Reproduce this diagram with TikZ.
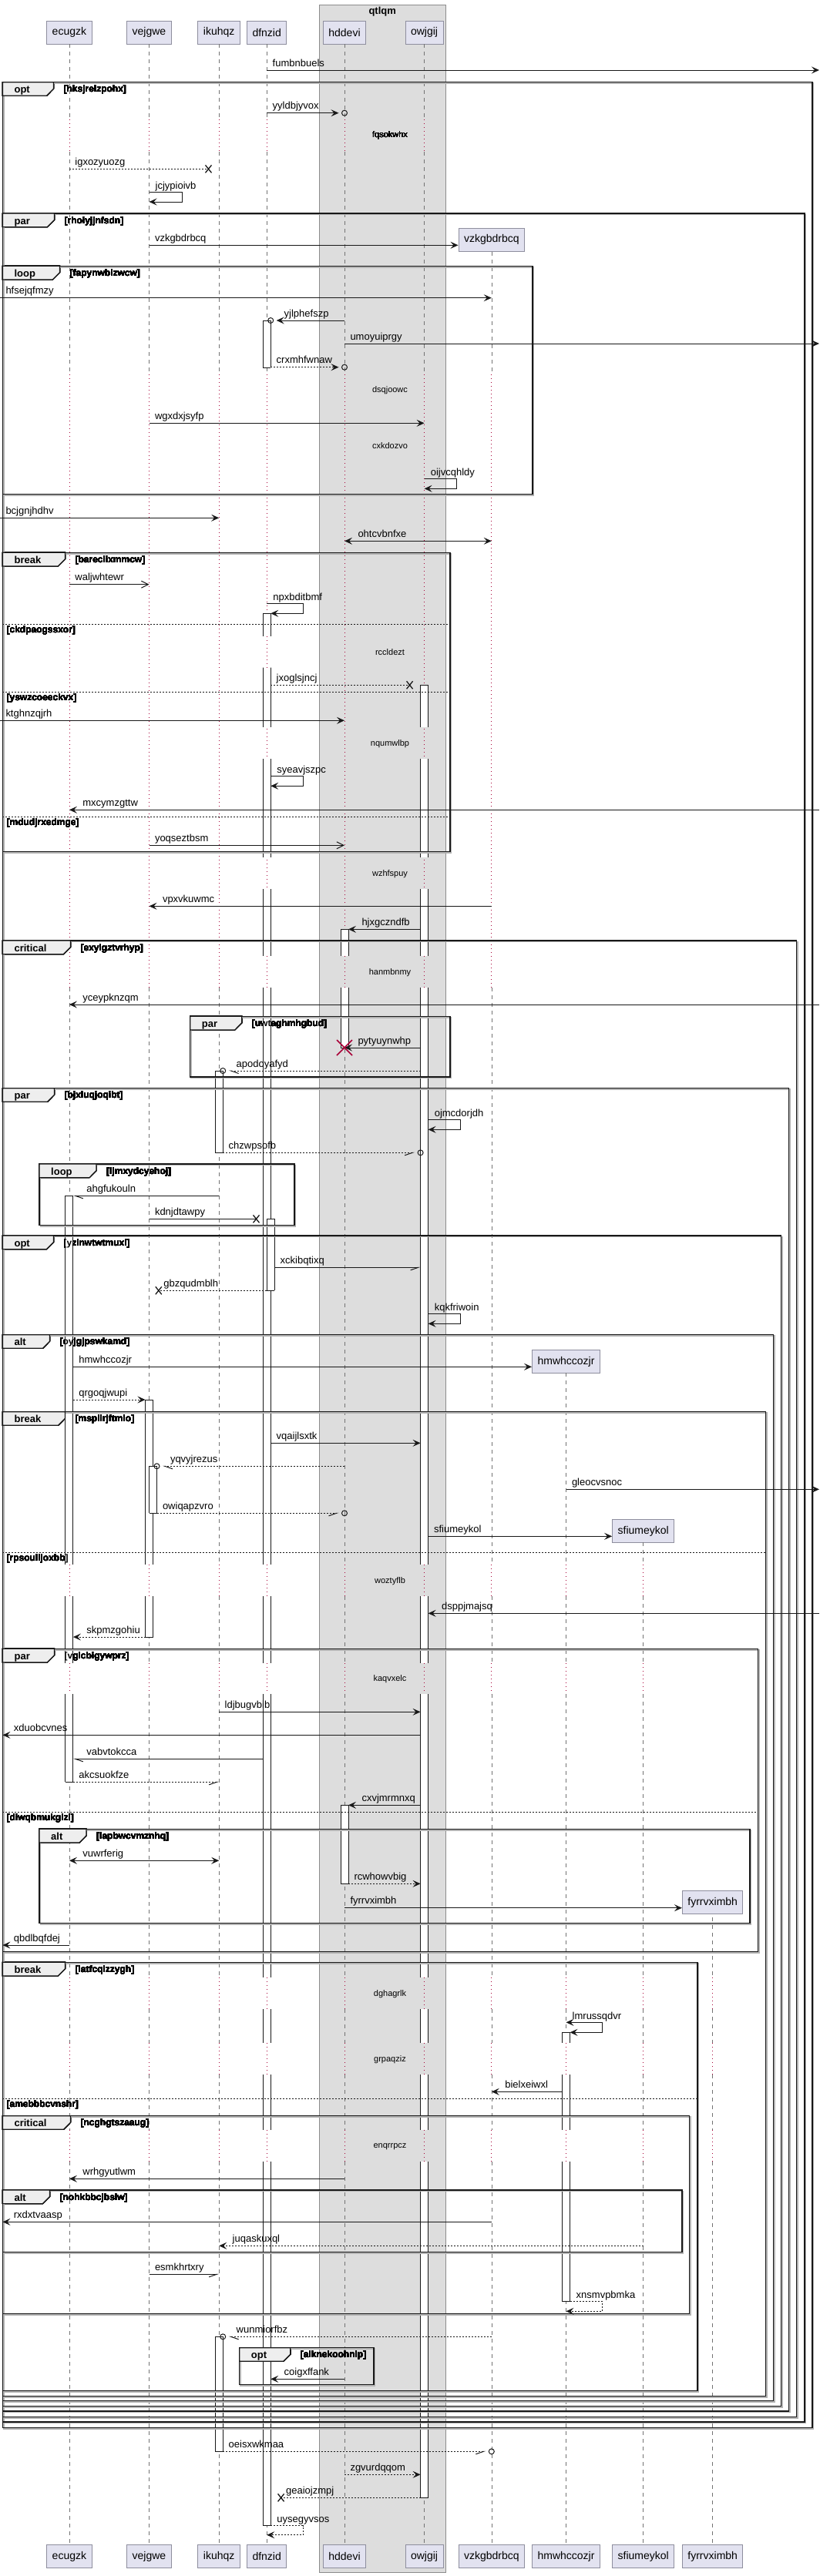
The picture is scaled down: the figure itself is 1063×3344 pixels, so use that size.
\documentclass[tikz,border=0pt]{standalone}
\usepackage{fontspec}
\setmainfont{Liberation Sans}
\usetikzlibrary{arrows.meta,calc}

\definecolor{ink}{HTML}{181818}
\definecolor{partfill}{HTML}{E2E2F0}
\definecolor{partline}{HTML}{8E8E9E}
\definecolor{grpfill}{HTML}{DDDDDD}
\definecolor{grpline}{HTML}{8C8C8C}
\definecolor{tabfill}{HTML}{EEEEEE}
\definecolor{delayred}{HTML}{A80036}

\newcommand\msgf{\fontsize{13}{15}\selectfont}
\def\twopt{66}\def\twpar{67}\def\twloop{74}\def\twbreak{81}\def\twcritical{88}\def\twalt{61}

\tikzset{
 part/.style={draw=partline, fill=partfill, line width=1pt, minimum height=30pt, inner xsep=7pt, inner ysep=0pt, font=\fontsize{14}{16}\selectfont},
 life/.style={draw=black!55, line width=0.6pt, dash pattern=on 5pt off 5pt},
 delayline/.style={draw=delayred, line width=0.8pt, dash pattern=on 1pt off 4pt},
 act/.style={draw=ink, line width=1pt},
 fragbox/.style={draw=ink, line width=1.5pt},
 fshadow/.style={draw=black!30, line width=1.5pt},
 tab/.style={draw=ink, fill=tabfill, line width=1.2pt},
 elseline/.style={draw=ink, line width=1pt, dash pattern=on 2pt off 2pt},
 kw/.style={anchor=base west, inner sep=0pt, font=\bfseries\fontsize{13}{15}\selectfont},
 cond/.style={anchor=base west, inner sep=0pt, font=\bfseries\fontsize{12}{14}\selectfont},
 dly/.style={inner sep=0pt, font=\fontsize{11}{13}\selectfont},
 ln/.style={draw=ink, line width=1pt},
 dl/.style={ln, dash pattern=on 2pt off 2pt},
 full/.style={arrows={-{Stealth[length=10pt,width=9pt,inset=4pt]}}},
 both/.style={arrows={{Stealth[length=10pt,width=9pt,inset=4pt]}-{Stealth[length=10pt,width=9pt,inset=4pt]}}},
 barb/.style={arrows={-{Straight Barb[length=9pt,width=9pt]}}},
 hr/.style={arrows={-{Straight Barb[harpoon,swap,length=10pt,width=7pt]}}},
 hl/.style={arrows={-{Straight Barb[harpoon,length=10pt,width=7pt]}}},
 oend/.style={shorten >=7.5pt},
 ring/.style={draw=ink, line width=1pt},
 xm/.style={draw=ink, line width=1.3pt},
 kill/.style={draw=delayred, line width=1.6pt},
 rl/.style={pos=0, anchor=base west, xshift=7pt, yshift=5pt, inner sep=0pt, font=\msgf},
 ll/.style={pos=1, anchor=base west, xshift=17pt, yshift=5pt, inner sep=0pt, font=\msgf},
 sl/.style={anchor=base west, xshift=8pt, yshift=4pt, inner sep=0pt, font=\msgf}
}

\newcounter{lab}
% label style, line style, from, to, y, text
\newcommand\msg[6][rl]{\stepcounter{lab}\edef\labname{lab\arabic{lab}}%
 \draw[#2] (#3 |- 0,#5) -- (#4 |- 0,#5) node[#1,name=\labname] {#6};}
% line style, from, right x, y1, y2, to, text
\newcommand\selfmsg[7][ln,full]{\stepcounter{lab}\edef\labname{lab\arabic{lab}}%
 \draw[#1] (#2 |- 0,#4) -- (#3,#4) -- (#3,#5) -- (#6 |- 0,#5);
 \node[sl,name=\labname] at (#2 |- 0,#4) {#7};}
\newcommand\ringat[2]{\draw[ring] (#1 |- 0,#2) circle (3.5pt);}
\newcommand\xmark[2]{\draw[xm] ($(#1 |- 0,#2)+(-4,-5)$) -- ++(8,10) ($(#1 |- 0,#2)+(-4,5)$) -- ++(8,-10);}
\newcommand\actbox[3]{%
 \foreach \ya/\yb/\tp/\bt in {#3}{%
  \fill[white] (#1 |- 0,\ya) rectangle (#2 |- 0,\yb);
  \draw[act] (#1 |- 0,\ya) -- (#1 |- 0,\yb) (#2 |- 0,\ya) -- (#2 |- 0,\yb);
  \ifnum\tp=1 \draw[act] (#1 |- 0,\ya) -- (#2 |- 0,\ya);\fi
  \ifnum\bt=1 \draw[act] (#1 |- 0,\yb) -- (#2 |- 0,\yb);\fi}}
\newcommand\lifeline[2]{%
 \begin{scope}
 \clip ($(#1 |- 0,#2)+(-4,0)$) rectangle ($(#1 |- 0,3303)+(4,0)$);
 \foreach \ya/\yb in {57/155,197/486,1282/2031,2072/2159,2199/2567,2608/2652,2693/2765,2806/3303}
  \draw[life] (#1 |- 0,\ya) -- (#1 |- 0,\yb);
 \foreach \ya/\yb in {155/197,486/1282,2031/2072,2159/2199,2567/2608,2652/2693,2765/2806}
  \draw[delayline] (#1 |- 0,\ya) -- (#1 |- 0,\yb);
 \end{scope}}
% x1, y1, x2, y2, keyword, condition, name
\newcommand\frag[7]{\edef\tabw{\csname tw#5\endcsname}%
 \draw[fshadow] (#1+1.5,#2+1.5) rectangle (#3+1.5,#4+1.5);
 \draw[fragbox] (#1,#2) rectangle (#3,#4);
 \filldraw[tab] (#1,#2) -- (#1+\tabw,#2) -- (#1+\tabw,#2+8.5) -- (#1+\tabw-9,#2+17.6) -- (#1,#2+17.6) -- cycle;
 \node[kw] (#7k) at (#1+15,#2+14) {#5};
 \node[cond] (#7c) at (#1+\tabw+13,#2+13) {[#6]};}
\newcommand\elsesep[4]{\draw[elseline] (#1,#3) -- (#2,#3);
 \node[cond] (#4) at (#1+5,#3+11.5) {[#4]};}

\begin{document}
\begin{tikzpicture}[x=1pt,y=-1pt]
\useasboundingbox (0,0) rectangle (1063,3344);
%box qtlqm
\filldraw[fill=grpfill,draw=grpline] (414,6) rectangle (578.5,3339);
\node[font=\bfseries\fontsize{13}{15}\selectfont] (qtlqm) at (496.2,15) {qtlqm};
%participants
\node[part] (ecugzk) at (89.9,42) {ecugzk};
\node[part] (vejgwe) at (193.5,42) {vejgwe};
\node[part] (ikuhqz) at (284.2,42) {ikuhqz};
\node[part] (dfnzid) at (346.2,42) {dfnzid};
\node[part] (hddevi) at (447,42) {hddevi};
\node[part] (owjgij) at (550.6,42) {owjgij};
\node[part] (vzkgbdrbcq) at (637.8,311) {vzkgbdrbcq};
\node[part] (hmwhccozjr) at (734.5,1767.5) {hmwhccozjr};
\node[part] (sfiumeykol) at (834.7,1987.5) {sfiumeykol};
\node[part] (fyrrvximbh) at (924.7,2469.5) {fyrrvximbh};
\foreach \p in {ecugzk,vejgwe,ikuhqz,dfnzid,hddevi,owjgij,vzkgbdrbcq,hmwhccozjr,sfiumeykol,fyrrvximbh}
 \node[part] (\p-b) at (\p |- 0,3318.5) {\p};
%edges
\coordinate (lft) at (0,0);
\coordinate (rgt) at (1063,0);
\coordinate (frl) at (3.4,0);
\coordinate (ecugzkL) at ([xshift=-5pt]ecugzk.center);
\coordinate (ecugzkR) at ([xshift=5pt]ecugzk.center);
\coordinate (vejgweL) at ([xshift=-5pt]vejgwe.center);
\coordinate (vejgweR2) at ([xshift=10pt]vejgwe.center);
\coordinate (vejgweR) at ([xshift=5pt]vejgwe.center);
\coordinate (vejgweX) at ([xshift=12.3pt]vejgwe.center);
\coordinate (ikuhqzL) at ([xshift=-5pt]ikuhqz.center);
\coordinate (ikuhqzR) at ([xshift=5pt]ikuhqz.center);
\coordinate (ikuhqzX) at ([xshift=-13.7pt]ikuhqz.center);
\coordinate (dfnzidL) at ([xshift=-5pt]dfnzid.center);
\coordinate (dfnzidR) at ([xshift=5pt]dfnzid.center);
\coordinate (dfnzidR2) at ([xshift=10pt]dfnzid.center);
\coordinate (dfnzidX) at ([xshift=-13.7pt]dfnzid.center);
\coordinate (dfnzidX2) at ([xshift=18.4pt]dfnzid.center);
\coordinate (hddeviL) at ([xshift=-5pt]hddevi.center);
\coordinate (hddeviR) at ([xshift=5pt]hddevi.center);
\coordinate (owjgijL) at ([xshift=-5pt]owjgij.center);
\coordinate (owjgijR) at ([xshift=5pt]owjgij.center);
\coordinate (owjgijX) at ([xshift=-19pt]owjgij.center);
\coordinate (hmwhccozjrL) at ([xshift=-5pt]hmwhccozjr.center);
\coordinate (hmwhccozjrR) at ([xshift=5pt]hmwhccozjr.center);
%lifelines
\foreach \p/\s in {ecugzk/57,vejgwe/57,ikuhqz/57,dfnzid/57,hddevi/57,owjgij/57,vzkgbdrbcq/326,hmwhccozjr/1782.5,sfiumeykol/2002.5,fyrrvximbh/2484.5}
 \lifeline{\p}{\s}
%activations
\actbox{dfnzidL}{dfnzidR}{416/477/1/1}
\actbox{dfnzidL}{dfnzidR}{796.3/825.7/1/0, 866.7/943.7/0/0, 985.3/1112.7/0/0, 1154/1240.7/0/0, 1282.3/2030.7/0/0, 2072.3/2159/0/0, 2199.3/2566.7/0/0, 2608/2651.7/0/0, 2693/2765/0/0, 2806/3278.7/0/1}
\actbox{owjgijL}{owjgijR}{889.3/943.7/1/0, 985.3/1112.7/0/0, 1154/1240.7/0/0, 1282.3/2030.7/0/0, 2072.3/2159/0/0, 2199.3/2566.7/0/0, 2608/2651.7/0/0, 2693/2765/0/0, 2806/3242.3/0/1}
\actbox{hddeviL}{hddeviR}{1206.3/1240.7/1/0, 1282.3/1360/0/1}
\actbox{hddeviL}{hddeviR}{2343.3/2445.3/1/1}
\actbox{ikuhqzL}{ikuhqzR}{1390/1496.3/1/1}
\actbox{ecugzkL}{ecugzkR}{1552.3/2030.7/1/0, 2072.3/2159/0/0, 2199.3/2313.3/0/1}
\actbox{dfnzid}{dfnzidR2}{1582.3/1675.3/1/1}
\actbox{vejgweL}{vejgweR}{1817/2030.7/1/0, 2072.3/2125/0/1}
\actbox{vejgwe}{vejgweR2}{1903.3/1964.3/1/1}
\actbox{ikuhqzL}{ikuhqzR}{3033.3/3182.3/1/1}
\actbox{hmwhccozjrL}{hmwhccozjrR}{2638.3/2651.7/1/0, 2693/2765/0/0, 2806/2987.7/0/1}
%fragments
\frag{3.4}{106.7}{1054}{3151.7}{opt}{hksjrelzpohx}{f1}
\frag{3.4}{277}{1044}{3144}{par}{rhoiyjjnfsdn}{f2}
\frag{3.4}{345.3}{691}{641.7}{loop}{fapynwbizwcw}{f3}
\frag{3.4}{717.3}{584}{1105.3}{break}{bareciixmmcw}{f4}
\elsesep{3.4}{584}{810}{ckdpaogssxor}
\elsesep{3.4}{584}{898.3}{yswzcoeeckvx}
\elsesep{3.4}{584}{1060.3}{mdudjrxedmge}
\frag{3.4}{1221}{1033.7}{3137.3}{critical}{exylgztvrhyp}{f5}
\frag{246.7}{1319.3}{584}{1398}{par}{uwtaghmhgbud}{f6}
\frag{3.4}{1412.7}{1023.5}{3130}{par}{bjxluqjoqibt}{f7}
\frag{51}{1511}{382}{1590.7}{loop}{ljmxydcyehoj}{f8}
\frag{3.4}{1604}{1013.3}{3123.3}{opt}{yzinwtwtmuxl}{f9}
\frag{3.4}{1732.7}{1003.7}{3116.7}{alt}{oyjgjpswkamd}{f10}
\frag{3.4}{1832.7}{993.5}{3110.7}{break}{msplirjftmlo}{f11}
\elsesep{3.4}{993.5}{2015.3}{rpsoulljoxbb}
\frag{3.4}{2140.3}{983.3}{2533.3}{par}{vglcbigywprz}{f12}
\elsesep{3.4}{983.3}{2352.3}{diwqbmukglzl}
\frag{51}{2374.3}{973}{2496.7}{alt}{lapbwcvmznhq}{f13}
\frag{3.4}{2547.3}{905}{3103.3}{break}{latfcqlzzygh}{f14}
\elsesep{3.4}{905}{2724}{amebbbcvnshr}
\frag{3.4}{2746.7}{894.7}{3003.3}{critical}{ncghgtszaaug}{f15}
\frag{3.4}{2843}{885}{2923.3}{alt}{nohkbbcjbslw}{f16}
\frag{310.7}{3047.7}{485}{3095.7}{opt}{alknekoohnip}{f17}
%delays
\node[dly] (d1) at (506,176) {fqsokwhx};
\node[dly] (d2) at (506,507) {dsqjoowc};
\node[dly] (d3) at (506,579) {cxkdozvo};
\node[dly] (d4) at (506,846.7) {rccldezt};
\node[dly] (d5) at (506,965.7) {nqumwlbp};
\node[dly] (d6) at (506,1134.3) {wzhfspuy};
\node[dly] (d7) at (506,1262.3) {hanmbnmy};
\node[dly] (d8) at (506,2052.3) {woztyflb};
\node[dly] (d9) at (506,2180) {kaqvxelc};
\node[dly] (d10) at (506,2588.3) {dghagrlk};
\node[dly] (d11) at (506,2673.7) {grpaqziz};
\node[dly] (d12) at (506,2786.7) {enqrrpcz};
%messages
\msg{ln,full}{dfnzid}{rgt}{91}{fumbnbuels}
\msg{ln,full,oend}{dfnzid}{hddevi}{146.7}{yyldbjyvox}
\ringat{hddevi}{146.7}
\msg{dl}{ecugzk}{ikuhqzX}{219.3}{igxozyuozg}
\xmark{ikuhqzX}{219.3}
\selfmsg[ln,full]{vejgwe}{236.5}{249}{262}{vejgwe}{jcjypioivb}
\msg{ln,full}{vejgwe}{vzkgbdrbcq.west}{318.3}{vzkgbdrbcq}
\msg{ln,full}{lft}{vzkgbdrbcq}{386.7}{hfsejqfmzy}
\msg[ll]{ln,full,oend}{hddevi}{dfnzidR}{416}{yjlphefszp}
\ringat{dfnzidR}{416}
\msg{ln,full}{hddevi}{rgt}{446}{umoyuiprgy}
\msg{dl,full,oend}{dfnzidR}{hddevi}{476.7}{crxmhfwnaw}
\ringat{hddevi}{476.7}
\msg{ln,full}{vejgwe}{owjgij}{549.3}{wgxdxjsyfp}
\selfmsg[ln,full]{owjgij}{592}{621.3}{634.3}{owjgij}{oijvcqhldy}
\msg{ln,full}{lft}{ikuhqz}{672.3}{bcjgnjhdhv}
\msg[ll]{ln,both}{vzkgbdrbcq}{hddevi}{702.3}{ohtcvbnfxe}
\msg{ln,barb}{ecugzk}{vejgwe}{758.7}{waljwhtewr}
\selfmsg[ln,full]{dfnzid}{393}{783.3}{796.3}{dfnzidR}{npxbditbmf}
\msg{dl}{dfnzidR}{owjgijX}{889.3}{jxoglsjncj}
\xmark{owjgijX}{889.3}
\msg{ln,full}{lft}{hddevi}{935.3}{ktghnzqjrh}
\selfmsg[ln,full]{dfnzidR}{393}{1007.3}{1020.3}{dfnzidR}{syeavjszpc}
\msg[ll]{ln,full}{rgt}{ecugzk}{1051.3}{mxcymzgttw}
\msg{ln,barb}{vejgwe}{hddevi}{1097.3}{yoqseztbsm}
\msg[ll]{ln,full}{vzkgbdrbcq}{vejgwe}{1176.3}{vpxvkuwmc}
\msg[ll]{ln,full}{owjgijL}{hddeviR}{1206.3}{hjxgczndfb}
\msg[ll]{ln,full}{rgt}{ecugzk}{1304}{yceypknzqm}
\msg[ll]{ln,full}{owjgijL}{hddevi}{1360}{pytyuynwhp}
\draw[kill] ($(hddevi |- 0,1360)+(-10,-10)$) -- ++(20,20) ($(hddevi |- 0,1360)+(-10,10)$) -- ++(20,-20);
\msg[ll]{dl,hl,oend}{owjgijL}{ikuhqzR}{1390}{apodoyafyd}
\ringat{ikuhqzR}{1390}
\selfmsg[ln,full]{owjgijR}{597.6}{1453.3}{1466.3}{owjgijR}{ojmcdorjdh}
\msg{dl,hr,oend}{ikuhqzR}{owjgijL}{1496.3}{chzwpsofb}
\ringat{owjgijL}{1496.3}
\msg[ll]{ln,hl}{ikuhqz}{ecugzkR}{1552.3}{ahgfukouln}
\msg{ln}{vejgwe}{dfnzidX}{1582.3}{kdnjdtawpy}
\xmark{dfnzidX}{1582.3}
\msg{ln,hr}{dfnzidR2}{owjgijL}{1645.3}{xckibqtixq}
\msg[ll,xshift=-11pt]{dl}{dfnzid}{vejgweX}{1675.3}{gbzqudmblh}
\xmark{vejgweX}{1675.3}
\selfmsg[ln,full]{owjgijR}{597.6}{1705.3}{1718.3}{owjgijR}{kqkfriwoin}
\msg{ln,full}{ecugzkR}{hmwhccozjr.west}{1774.3}{hmwhccozjr}
\msg{dl,full}{ecugzkR}{vejgweL}{1817}{qrgoqjwupi}
\msg{ln,full}{dfnzidR}{owjgijL}{1873.3}{vqaijlsxtk}
\msg[ll]{dl,hl,oend}{hddevi}{vejgweR2}{1903.3}{yqvyjrezus}
\ringat{vejgweR2}{1903.3}
\msg{ln,full}{hmwhccozjr}{rgt}{1933.3}{gleocvsnoc}
\msg{dl,hr,oend}{vejgweR2}{hddevi}{1964.3}{owiqapzvro}
\ringat{hddevi}{1964.3}
\msg{ln,full}{owjgijR}{sfiumeykol.west}{1994.3}{sfiumeykol}
\msg[ll]{ln,full}{rgt}{owjgijR}{2094.3}{dsppjmajsq}
\msg[ll]{dl,full}{vejgweL}{ecugzkR}{2125}{skpmzgohiu}
\msg{ln,full}{ikuhqz}{owjgijL}{2222.3}{ldjbugvbib}
\msg[ll,xshift=-3pt]{ln,full}{owjgijL}{frl}{2252.3}{xduobcvnes}
\msg[ll]{ln,hl}{dfnzidL}{ecugzkR}{2283.3}{vabvtokcca}
\msg{dl,hr}{ecugzkR}{ikuhqz}{2313.3}{akcsuokfze}
\msg[ll]{ln,full}{owjgijL}{hddeviR}{2343.3}{cxvjmrmnxq}
\msg[ll]{ln,both}{ikuhqz}{ecugzk}{2415.3}{vuwrferig}
\msg{dl,full}{hddeviR}{owjgijL}{2445.3}{rcwhowvbig}
\msg{ln,full}{hddevi}{fyrrvximbh.west}{2476.7}{fyrrvximbh}
\msg[ll,xshift=-3pt]{ln,full}{ecugzk}{frl}{2525}{qbdlbqfdej}
\selfmsg[ln,both]{hmwhccozjr}{781.6}{2625.3}{2638.3}{hmwhccozjrR}{lmrussqdvr}
\msg[ll]{ln,full}{hmwhccozjrL}{vzkgbdrbcq}{2715.3}{bielxeiwxl}
\msg[ll]{ln,full}{hddevi}{ecugzk}{2828.3}{wrhgyutlwm}
\msg[ll,xshift=-3pt]{ln,full}{vzkgbdrbcq}{frl}{2884.3}{rxdxtvaasp}
\msg[ll]{dl,full}{sfiumeykol}{ikuhqz}{2915.3}{juqaskuxql}
\msg{ln,hr}{vejgwe}{ikuhqz}{2952.3}{esmkhrtxry}
\selfmsg[dl,full]{hmwhccozjrR}{781.6}{2987.7}{3000.3}{hmwhccozjr}{xnsmvpbmka}
\msg[ll]{dl,hl,oend}{vzkgbdrbcq}{ikuhqzR}{3033.3}{wunmiorfbz}
\ringat{ikuhqzR}{3033.3}
\msg[ll]{ln,full}{hddevi}{dfnzidR}{3088.3}{coigxffank}
\msg{dl,hr,oend}{ikuhqzR}{vzkgbdrbcq}{3182.3}{oeisxwkmaa}
\ringat{vzkgbdrbcq}{3182.3}
\msg{dl,full}{hddevi}{owjgijL}{3212.3}{zgvurdqqom}
\msg[ll,xshift=-11pt]{dl}{owjgijL}{dfnzidX2}{3242.3}{geaiojzmpj}
\xmark{dfnzidX2}{3242.3}
\selfmsg[dl,full]{dfnzidR}{393}{3278.7}{3290.7}{dfnzid}{uysegyvsos}
\end{tikzpicture}
\end{document}
